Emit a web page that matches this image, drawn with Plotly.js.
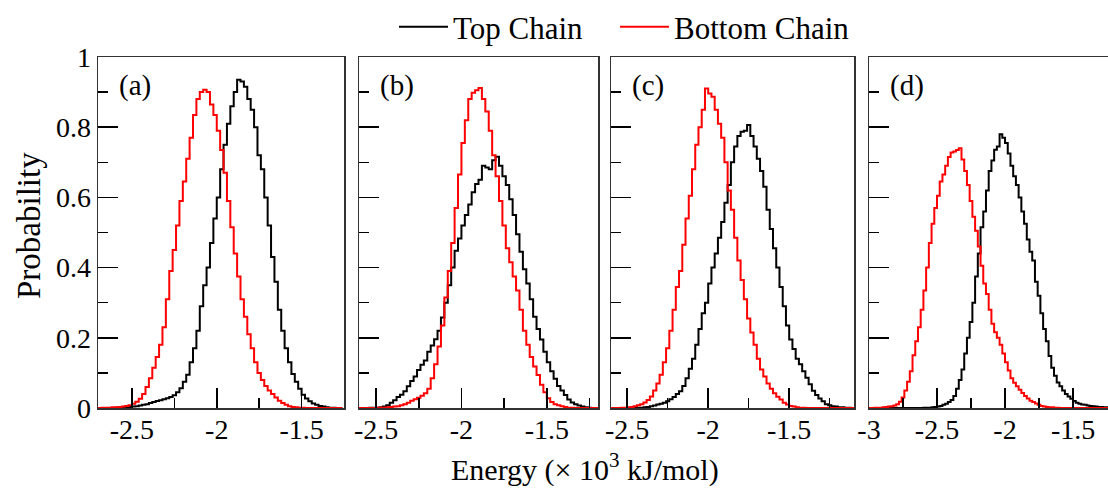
<!DOCTYPE html>
<html>
<head>
<meta charset="utf-8">
<script src="https://cdn.plot.ly/plotly-3.0.1.min.js"></script>
<style>
html,body{margin:0;padding:0;overflow:hidden;background:#fff;}
#chart{width:1108px;height:496px;}
</style>
</head>
<body>
<div id="chart"></div>
<script>
// ---- Data (Energy in 10^3 kJ/mol, probability) ----
const seriesNames = ["Top Chain", "Bottom Chain"];
const panelLabels = ["(a)", "(b)", "(c)", "(d)"];

const energyA = [-2.70,-2.68,-2.66,-2.64,-2.62,-2.60,-2.58,-2.56,-2.54,-2.52,-2.50,-2.48,-2.46,-2.44,-2.42,-2.40,-2.38,-2.36,-2.34,-2.32,-2.30,-2.28,-2.26,-2.24,-2.22,-2.20,-2.18,-2.16,-2.14,-2.12,-2.10,-2.08,-2.06,-2.04,-2.02,-2.00,-1.98,-1.96,-1.94,-1.92,-1.90,-1.88,-1.86,-1.84,-1.82,-1.80,-1.78,-1.76,-1.74,-1.72,-1.70,-1.68,-1.66,-1.64,-1.62,-1.60,-1.58,-1.56,-1.54,-1.52,-1.50,-1.48,-1.46,-1.44,-1.42,-1.40,-1.38,-1.36,-1.34,-1.32,-1.30,-1.28,-1.26];
const topA = [0,0,0,0,0, 0.001,0.001,0.002,0.002,0.003, 0.004,0.005,0.007,0.009,0.011, 0.014,0.017,0.020,0.022,0.025, 0.028,0.031,0.036,0.045,0.056, 0.075,0.095,0.13,0.17,0.22, 0.29,0.35,0.40,0.47,0.54, 0.60,0.68,0.75,0.81,0.86, 0.90,0.935,0.93,0.915,0.88, 0.85,0.80,0.72,0.68,0.60, 0.52,0.43,0.36,0.28,0.22, 0.17,0.13,0.097,0.075,0.055, 0.038,0.027,0.019,0.013,0.009, 0.006,0.004,0.002,0.001,0.001, 0,0,0];
const bottomA = [0,0.001,0.001,0.001,0.002, 0.002,0.003,0.004,0.006,0.008, 0.012,0.018,0.026,0.04,0.06, 0.085,0.115,0.145,0.18,0.23, 0.31,0.39,0.45,0.52,0.59, 0.645,0.71,0.77,0.835,0.88, 0.90,0.907,0.90,0.865,0.835, 0.79,0.735,0.67,0.59,0.515, 0.44,0.375,0.31,0.26,0.21, 0.17,0.13,0.10,0.08,0.063, 0.05,0.04,0.03,0.021,0.014, 0.009,0.005,0.003,0.002,0.001, 0.001,0,0,0,0, 0,0,0,0,0, 0,0,0];

const energyB = [-2.60,-2.58,-2.56,-2.54,-2.52,-2.50,-2.48,-2.46,-2.44,-2.42,-2.40,-2.38,-2.36,-2.34,-2.32,-2.30,-2.28,-2.26,-2.24,-2.22,-2.20,-2.18,-2.16,-2.14,-2.12,-2.10,-2.08,-2.06,-2.04,-2.02,-2.00,-1.98,-1.96,-1.94,-1.92,-1.90,-1.88,-1.86,-1.84,-1.82,-1.80,-1.78,-1.76,-1.74,-1.72,-1.70,-1.68,-1.66,-1.64,-1.62,-1.60,-1.58,-1.56,-1.54,-1.52,-1.50,-1.48,-1.46,-1.44,-1.42,-1.40,-1.38,-1.36,-1.34,-1.32,-1.30,-1.28,-1.26,-1.24,-1.22,-1.20];
const topB = [0,0,0,0.001,0.001, 0.001,0.002,0.004,0.008,0.015, 0.022,0.031,0.038,0.048,0.062, 0.077,0.09,0.108,0.123,0.135, 0.16,0.178,0.196,0.22,0.258, 0.30,0.35,0.40,0.448,0.483, 0.52,0.55,0.58,0.615,0.638, 0.65,0.69,0.685,0.68,0.706, 0.716,0.69,0.66,0.635,0.595, 0.55,0.495,0.445,0.395,0.355, 0.31,0.26,0.225,0.195,0.16, 0.13,0.105,0.083,0.063,0.05, 0.037,0.024,0.016,0.011,0.007, 0.004,0.002,0.001,0,0, 0];
const bottomB = [0,0,0,0,0, 0.001,0.001,0.001,0.002,0.003, 0.004,0.005,0.008,0.011,0.015, 0.021,0.025,0.029,0.035,0.042, 0.055,0.085,0.125,0.175,0.235, 0.315,0.39,0.47,0.57,0.665, 0.755,0.82,0.88,0.898,0.905, 0.912,0.88,0.845,0.79,0.72, 0.66,0.59,0.52,0.455,0.415, 0.375,0.335,0.28,0.22,0.18, 0.145,0.118,0.094,0.066,0.045, 0.028,0.017,0.011,0.008,0.005, 0.003,0.001,0.001,0,0, 0,0,0,0,0, 0];

const energyC = [-2.60,-2.58,-2.56,-2.54,-2.52,-2.50,-2.48,-2.46,-2.44,-2.42,-2.40,-2.38,-2.36,-2.34,-2.32,-2.30,-2.28,-2.26,-2.24,-2.22,-2.20,-2.18,-2.16,-2.14,-2.12,-2.10,-2.08,-2.06,-2.04,-2.02,-2.00,-1.98,-1.96,-1.94,-1.92,-1.90,-1.88,-1.86,-1.84,-1.82,-1.80,-1.78,-1.76,-1.74,-1.72,-1.70,-1.68,-1.66,-1.64,-1.62,-1.60,-1.58,-1.56,-1.54,-1.52,-1.50,-1.48,-1.46,-1.44,-1.42,-1.40,-1.38,-1.36,-1.34,-1.32,-1.30,-1.28,-1.26,-1.24,-1.22,-1.20,-1.18,-1.16,-1.14,-1.12,-1.10];
const topC = [0,0,0,0,0, 0,0,0.001,0.001,0.001, 0.002,0.003,0.005,0.007,0.01, 0.012,0.015,0.019,0.025,0.031, 0.04,0.048,0.063,0.085,0.112, 0.14,0.18,0.225,0.27,0.30, 0.355,0.40,0.44,0.485,0.53, 0.585,0.635,0.70,0.745,0.775, 0.787,0.79,0.806,0.775,0.745, 0.71,0.675,0.63,0.565,0.51, 0.455,0.40,0.345,0.29,0.235, 0.195,0.168,0.14,0.125,0.105, 0.086,0.068,0.049,0.037,0.027, 0.019,0.011,0.008,0.005,0.004, 0.002,0.002,0.001,0.001,0, 0];
const bottomC = [0,0,0,0.001,0.001, 0.002,0.003,0.005,0.008,0.011, 0.016,0.023,0.033,0.05,0.07, 0.095,0.13,0.17,0.22,0.28, 0.345,0.39,0.465,0.54,0.605, 0.68,0.75,0.80,0.85,0.91, 0.896,0.887,0.85,0.81,0.77, 0.70,0.62,0.565,0.485,0.42, 0.365,0.31,0.255,0.215,0.18, 0.14,0.11,0.09,0.07,0.055, 0.042,0.032,0.024,0.015,0.01, 0.006,0.004,0.002,0.001,0.001, 0,0,0,0,0, 0,0,0,0,0, 0,0,0,0,0, 0];

const energyD = [-3.00,-2.98,-2.96,-2.94,-2.92,-2.90,-2.88,-2.86,-2.84,-2.82,-2.80,-2.78,-2.76,-2.74,-2.72,-2.70,-2.68,-2.66,-2.64,-2.62,-2.60,-2.58,-2.56,-2.54,-2.52,-2.50,-2.48,-2.46,-2.44,-2.42,-2.40,-2.38,-2.36,-2.34,-2.32,-2.30,-2.28,-2.26,-2.24,-2.22,-2.20,-2.18,-2.16,-2.14,-2.12,-2.10,-2.08,-2.06,-2.04,-2.02,-2.00,-1.98,-1.96,-1.94,-1.92,-1.90,-1.88,-1.86,-1.84,-1.82,-1.80,-1.78,-1.76,-1.74,-1.72,-1.70,-1.68,-1.66,-1.64,-1.62,-1.60,-1.58,-1.56,-1.54,-1.52,-1.50,-1.48,-1.46,-1.44,-1.42,-1.40,-1.38,-1.36,-1.34,-1.32,-1.30,-1.28,-1.26,-1.24];
const topD = [0,0,0,0,0, 0,0,0,0,0, 0,0,0,0,0, 0,0,0,0,0, 0.001,0.001,0.001,0.002,0.003, 0.004,0.006,0.009,0.012,0.017, 0.023,0.034,0.055,0.08,0.11, 0.155,0.20,0.245,0.30,0.375, 0.44,0.515,0.56,0.62,0.675, 0.705,0.736,0.745,0.78,0.77, 0.755,0.725,0.69,0.66,0.635, 0.60,0.56,0.525,0.48,0.445, 0.42,0.36,0.32,0.27,0.225, 0.19,0.148,0.115,0.092,0.073, 0.062,0.05,0.04,0.033,0.026, 0.02,0.015,0.012,0.01,0.009, 0.007,0.006,0.005,0.004,0.003, 0.003,0.002,0.002,0.001];
const bottomD = [0,0,0.001,0.001,0.001, 0.002,0.003,0.004,0.005,0.007, 0.011,0.018,0.03,0.05,0.075, 0.105,0.15,0.19,0.23,0.28, 0.335,0.40,0.47,0.525,0.57, 0.605,0.645,0.665,0.69,0.715, 0.728,0.731,0.735,0.74,0.708, 0.675,0.635,0.59,0.545,0.505, 0.46,0.405,0.355,0.325,0.28, 0.24,0.216,0.20,0.18,0.155, 0.13,0.107,0.085,0.072,0.062, 0.052,0.043,0.034,0.027,0.021, 0.017,0.013,0.009,0.006,0.004, 0.003,0.002,0.002,0.001,0.001, 0,0,0,0,0, 0,0,0,0,0, 0,0,0,0,0, 0,0,0,0];

const xRanges = [[-2.7,-1.25],[-2.6,-1.2],[-2.6,-1.1],[-3.0,-1.243]];
const xTickVals = [[-2.5,-2,-1.5],[-2.5,-2,-1.5],[-2.5,-2,-1.5],[-3,-2.5,-2,-1.5]];
const xTickText = [["-2.5","-2","-1.5"],["-2.5","-2","-1.5"],["-2.5","-2","-1.5"],["-3","-2.5","-2","-1.5"]];

// ---- Layout geometry ----
const W = 1108, H = 496;
const FONT = "Liberation Serif, Times New Roman, serif";
const panelPx = [[98,344],[359,598],[611,854],[869,1108]];
const yDom = [(H-408)/H, (H-57)/H];

const energies = [energyA, energyB, energyC, energyD];
const tops = [topA, topB, topC, topD];
const bottoms = [bottomA, bottomB, bottomC, bottomD];

const traces = [];
for (let i = 0; i < 4; i++) {
  const sfx = i === 0 ? "" : String(i + 1);
  traces.push({
    x: energies[i], y: tops[i], type: "scatter", mode: "lines",
    line: {color: "#000000", width: 2, shape: "hv"},
    name: seriesNames[0], legendgroup: "top", showlegend: i === 0, legend: "legend",
    xaxis: "x" + sfx, yaxis: "y" + sfx, hoverinfo: "skip"
  });
}
for (let i = 0; i < 4; i++) {
  const sfx = i === 0 ? "" : String(i + 1);
  traces.push({
    x: energies[i], y: bottoms[i], type: "scatter", mode: "lines",
    line: {color: "#ff0000", width: 2, shape: "hv"},
    name: seriesNames[1], legendgroup: "bottom", showlegend: i === 0, legend: "legend2",
    xaxis: "x" + sfx, yaxis: "y" + sfx, hoverinfo: "skip"
  });
}

const legendStyle = (xpx) => ({
  orientation: "h", x: xpx / W, xanchor: "left", y: 1, yanchor: "top",
  font: {family: FONT, size: 31, color: "#000"}, bgcolor: "rgba(0,0,0,0)",
  itemwidth: 49
});

const layout = {
  width: W, height: H,
  margin: {l: 0, r: 0, t: 0, b: 0},
  paper_bgcolor: "#ffffff", plot_bgcolor: "#ffffff",
  font: {family: FONT, size: 28, color: "#000"},
  showlegend: true,
  legend: legendStyle(394),
  legend2: legendStyle(615),
  annotations: [],
  shapes: []
};

for (let i = 0; i < 4; i++) {
  const sfx = i === 0 ? "" : String(i + 1);
  const last = i === 3;
  layout["xaxis" + sfx] = {
    domain: [panelPx[i][0] / W, panelPx[i][1] / W],
    anchor: "y" + sfx,
    range: xRanges[i],
    tickmode: "array", tickvals: xTickVals[i], ticktext: xTickText[i],
    ticks: "inside", ticklen: 20, tickwidth: 1.5, tickcolor: "#000",
    ticklabelstandoff: -4,
    minor: {tickmode: "linear", ticks: "inside", ticklen: 10, tickwidth: 1.5, dtick: 0.25, tick0: 0, tickcolor: "#000", showgrid: false},
    showline: true, linecolor: "#333", linewidth: 1.5, mirror: true,
    showgrid: false, zeroline: false,
    tickfont: {family: FONT, size: 28, color: "#000"}
  };
  layout["yaxis" + sfx] = {
    domain: yDom,
    anchor: "x" + sfx,
    range: [0, 1],
    dtick: 0.2, tick0: 0,
    ticks: "inside", ticklen: 20, tickwidth: 1.5, tickcolor: "#000",
    minor: {ticks: "inside", ticklen: 10, tickwidth: 1.5, dtick: 0.1, tick0: 0, tickcolor: "#000", showgrid: false},
    showline: true, linecolor: "#333", linewidth: 1.5, mirror: !last,
    showgrid: false, zeroline: false,
    showticklabels: i === 0,
    tickfont: {family: FONT, size: 28, color: "#000"}
  };
  layout.annotations.push({
    text: panelLabels[i], xref: "paper", yref: "paper",
    x: (panelPx[i][0] + 19) / W, y: 1 - 86 / H,
    xanchor: "left", yanchor: "middle", showarrow: false,
    font: {family: FONT, size: 29, color: "#000"}
  });
}

layout.annotations.push({
  text: "Energy (× 10<sup>3</sup> kJ/mol)", xref: "paper", yref: "paper",
  x: 585 / W, y: 1 - 467 / H, xanchor: "center", yanchor: "middle",
  showarrow: false, font: {family: FONT, size: 30, color: "#000"}
});
layout.annotations.push({
  text: "Probability", xref: "paper", yref: "paper",
  x: 29 / W, y: 1 - 226 / H, xanchor: "center", yanchor: "middle",
  textangle: -90, showarrow: false, font: {family: FONT, size: 33, color: "#000"}
});

Plotly.newPlot("chart", traces, layout, {displayModeBar: false, staticPlot: true});
</script>
</body>
</html>
